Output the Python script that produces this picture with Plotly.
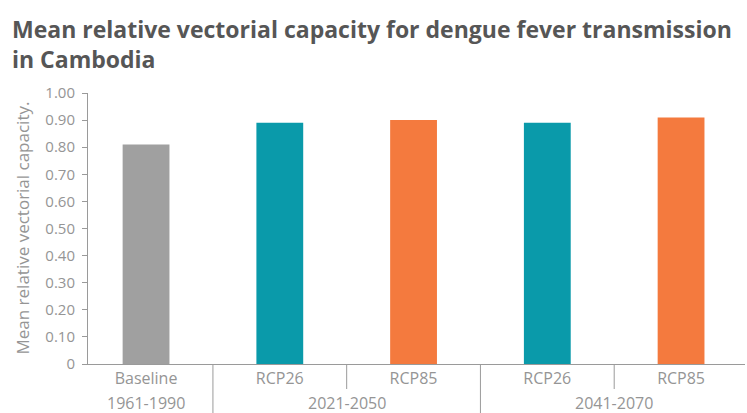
import plotly.graph_objects as go

# ---- data ----
title_lines = ["Mean relative vectorial capacity for dengue fever transmission", "in Cambodia"]
scenarios = ["Baseline", "RCP26", "RCP85", "RCP26", "RCP85"]
periods = ["1961-1990", "2021-2050", "2041-2070"]
period_index = [0, 1, 1, 2, 2]
values = [0.81, 0.89, 0.90, 0.89, 0.91]
y_ticks = [0, 0.1, 0.2, 0.3, 0.4, 0.5, 0.6, 0.7, 0.8, 0.9, 1.0]
y_ticktext = ["0", "0.10", "0.20", "0.30", "0.40", "0.50", "0.60", "0.70", "0.80", "0.90", "1.00"]

scenario_colors = {"Baseline": "#a0a0a0", "RCP26": "#0a9aaa", "RCP85": "#f47a3e"}

x = list(range(len(scenarios)))
bar_colors = [scenario_colors[s] for s in scenarios]

W, H = 747, 413
ml, mr, mt, mb = 88, 2, 93, 49
ph = H - mt - mb
pw = W - ml - mr

axis_grey = "#9a9a9a"
text_grey = "#959595"
font_family = "'Open Sans', sans-serif"

fig = go.Figure()
fig.add_trace(go.Bar(
    x=x, y=values, marker=dict(color=bar_colors, line=dict(width=0)),
    width=0.35, showlegend=False, hoverinfo="y"
))

shapes = []
# dividers between bars: long between periods, short within a period
for i in range(len(scenarios) - 1):
    long_div = period_index[i] != period_index[i + 1]
    depth = 50 if long_div else 25
    shapes.append(dict(type="line", xref="x", yref="paper",
                       x0=i + 0.5, x1=i + 0.5, y0=0, y1=-depth / ph,
                       line=dict(color=axis_grey, width=1)))

annotations = []
for p, label in enumerate(periods):
    members = [i for i, q in enumerate(period_index) if q == p]
    cx = sum(members) / len(members)
    annotations.append(dict(x=cx, y=-39 / ph, xref="x", yref="paper",
                            text=label, showarrow=False, xanchor="center", yanchor="middle",
                            font=dict(family=font_family, size=16, color=text_grey)))

annotations.append(dict(x=-66 / pw, y=0.5, xref="paper", yref="paper",
                        text="Mean relative vectorial capacity.", textangle=-90,
                        showarrow=False, xanchor="center", yanchor="middle",
                        font=dict(family=font_family, size=17, color=text_grey)))

# title (two lines)
annotations.append(dict(x=(10 - ml) / pw, y=1 + (mt - 44) / ph, xref="paper", yref="paper",
                        text="<br>".join(f"<b>{ln}</b>" for ln in title_lines),
                        showarrow=False, xanchor="left", yanchor="middle", align="left",
                        font=dict(family=font_family, size=23, color="#565656")))

fig.update_layout(
    width=W, height=H,
    margin=dict(l=ml, r=mr, t=mt, b=mb),
    paper_bgcolor="white", plot_bgcolor="white",
    xaxis=dict(range=[-0.434, 4.478], tickmode="array", tickvals=x, ticktext=scenarios,
               showline=True, linecolor=axis_grey, linewidth=1, ticks="",
               showgrid=False, zeroline=False, fixedrange=True,
               tickfont=dict(family=font_family, size=16, color=text_grey)),
    yaxis=dict(range=[0, 1.0], tickmode="array", tickvals=y_ticks, ticktext=y_ticktext,
               showline=True, linecolor=axis_grey, linewidth=1, ticks="outside",
               ticklen=5, tickcolor=axis_grey, showgrid=False, zeroline=False,
               ticklabelstandoff=4,
               tickfont=dict(family=font_family, size=15, color=text_grey)),
    shapes=shapes, annotations=annotations, bargap=0.6,
)

fig.write_html("out.html", config={"displayModeBar": False},
               post_script="document.body.style.margin='0';document.body.style.overflow='hidden';")
